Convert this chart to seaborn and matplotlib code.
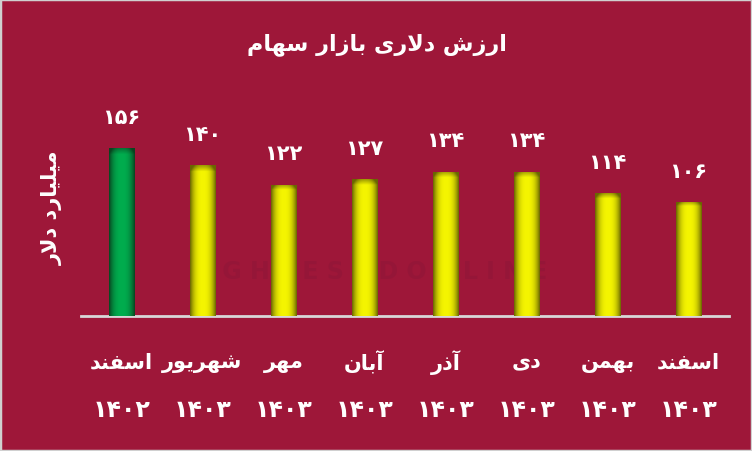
import numpy as np
import pandas as pd
import matplotlib
matplotlib.use("Agg")
import matplotlib.pyplot as plt
import seaborn as sns

# ---------------- data ----------------
months = ["اسفند", "شهریور", "مهر", "آبان", "آذر", "دی", "بهمن", "اسفند"]
years = ["۱۴۰۲", "۱۴۰۳", "۱۴۰۳", "۱۴۰۳", "۱۴۰۳", "۱۴۰۳", "۱۴۰۳", "۱۴۰۳"]
values = [156, 140, 122, 127, 134, 134, 114, 106]
title_text = "ارزش دلاری بازار سهام"
ylabel_text = "میلیارد دلار"

# ---------------- minimal Arabic/Persian shaping ----------------
FORMS = {  # isolated, final, initial, medial
    "ا": ("\uFE8D", "\uFE8E", None, None),
    "آ": ("\uFE81", "\uFE82", None, None),
    "ب": ("\uFE8F", "\uFE90", "\uFE91", "\uFE92"),
    "د": ("\uFEA9", "\uFEAA", None, None),
    "ذ": ("\uFEAB", "\uFEAC", None, None),
    "ر": ("\uFEAD", "\uFEAE", None, None),
    "ز": ("\uFEAF", "\uFEB0", None, None),
    "س": ("\uFEB1", "\uFEB2", "\uFEB3", "\uFEB4"),
    "ش": ("\uFEB5", "\uFEB6", "\uFEB7", "\uFEB8"),
    "ف": ("\uFED1", "\uFED2", "\uFED3", "\uFED4"),
    "ل": ("\uFEDD", "\uFEDE", "\uFEDF", "\uFEE0"),
    "م": ("\uFEE1", "\uFEE2", "\uFEE3", "\uFEE4"),
    "ن": ("\uFEE5", "\uFEE6", "\uFEE7", "\uFEE8"),
    "ه": ("\uFEE9", "\uFEEA", "\uFEEB", "\uFEEC"),
    "و": ("\uFEED", "\uFEEE", None, None),
    "ی": ("\uFEEF", "\uFEF0", "\uFEF3", "\uFEF4"),
}


def dual(c):
    return c in FORMS and FORMS[c][2] is not None


def joins(c):
    return c in FORMS


def shape(text):
    out = []
    i = 0
    n = len(text)
    while i < n:
        c = text[i]
        prev = text[i - 1] if i > 0 else ""
        con_prev = joins(c) and dual(prev)
        if c == "ل" and i + 1 < n and text[i + 1] == "ا":
            out.append("\uFEFC" if con_prev else "\uFEFB")
            i += 2
            continue
        if c not in FORMS:
            out.append(c)
            i += 1
            continue
        nxt = text[i + 1] if i + 1 < n else ""
        con_next = dual(c) and joins(nxt)
        iso, fin, ini, med = FORMS[c]
        if con_prev and con_next:
            out.append(med)
        elif con_prev:
            out.append(fin)
        elif con_next:
            out.append(ini)
        else:
            out.append(iso)
        i += 1
    return "".join(out)[::-1]


FA_DIGITS = str.maketrans("0123456789", "۰۱۲۳۴۵۶۷۸۹")

# ---------------- style ----------------
BG = "#9E1739"
sns.set_theme(style="white")
plt.rcParams["font.family"] = ["DejaVu Sans"]
plt.rcParams["font.weight"] = "bold"

fig = plt.figure(figsize=(7.52, 4.52), dpi=100, facecolor=BG)
W, H = 752, 452
ax = fig.add_axes([81 / W, 1 - 317 / H, 648 / W, 215.4 / H])
ax.set_facecolor("none")

df = pd.DataFrame({"cat": [f"{i}" for i in range(len(values))], "value": values})
sns.barplot(data=df, x="cat", y="value", ax=ax, width=0.31,
            color="#F0F000", saturation=1, edgecolor="none", zorder=3)
ax.set_xlim(-0.5, len(values) - 0.5)
ax.set_ylim(0, 200)

# faint watermark behind bars
ax.text(0.45, 0.21, "E G H T E S A D O N L I N E", transform=ax.transAxes,
        ha="center", va="center", color="#951638", fontsize=17,
        fontweight="bold", zorder=1)


def grad_img(base, dark):
    nx, ny = 64, 128
    x = np.linspace(-1, 1, nx)
    fx = np.clip(np.abs(x) ** 2.6, 0, 1)
    y = np.linspace(0, 1, ny)  # 0 = top
    fy = np.clip((0.04 - y) / 0.04, 0, 1) * 0.6
    t = np.clip(fx[None, :] + fy[:, None], 0, 1)
    base = np.array(matplotlib.colors.to_rgb(base))
    dark = np.array(matplotlib.colors.to_rgb(dark))
    return base[None, None, :] * (1 - t[..., None]) + dark[None, None, :] * t[..., None]


yellow = grad_img("#F5F500", "#6A6600")
green = grad_img("#00AD4E", "#0A4420")
for i, p in enumerate(ax.patches):
    x0, w, h = p.get_x(), p.get_width(), p.get_height()
    img = green if i == 0 else yellow
    im = ax.imshow(img, extent=[x0, x0 + w, 0, h], aspect="auto",
                   zorder=4, interpolation="bilinear")
    im.set_clip_path(p)
    ax.text(x0 + w / 2, h + 29, str(values[i]).translate(FA_DIGITS),
            ha="center", va="center", color="white", fontsize=15,
            fontweight="bold", zorder=6)

ax.set_aspect("auto")
ax.set_xlim(-0.5, len(values) - 0.5)
ax.set_ylim(0, 200)

for s in ["top", "right", "left"]:
    ax.spines[s].set_visible(False)
ax.spines["bottom"].set_color("#D8D8D8")
ax.spines["bottom"].set_linewidth(2)
ax.set_yticks([])
ax.set_xticks(range(len(values)))
ax.set_xticklabels([])
ax.tick_params(axis="x", length=0)
ax.set_xlabel("")
ax.set_ylabel("")

# category labels (two lines)
for i, (m, y) in enumerate(zip(months, years)):
    ax.annotate(shape(m), xy=(i, 0), xycoords="data", xytext=(0, -33),
                textcoords="offset points", ha="center", va="center",
                color="white", fontsize=15, fontweight="bold", annotation_clip=False)
    ax.annotate(y, xy=(i, 0), xycoords="data", xytext=(0, -67),
                textcoords="offset points", ha="center", va="center",
                color="white", fontsize=17, fontweight="bold", annotation_clip=False)

# title and y label
fig.text(377 / W, 1 - 45 / H, shape(title_text), ha="center", va="center",
         color="white", fontsize=16, fontweight="bold")
fig.text(52 / W, 1 - 208 / H, shape(ylabel_text), ha="center", va="center",
         rotation=90, color="white", fontsize=15, fontweight="bold")

# light border
fig.patches.append(plt.Rectangle((0, 0), 1, 1, transform=fig.transFigure,
                                 fill=False, edgecolor="#D0D0D0", linewidth=2.5))

fig.savefig("out.png", dpi=100, facecolor=BG)
